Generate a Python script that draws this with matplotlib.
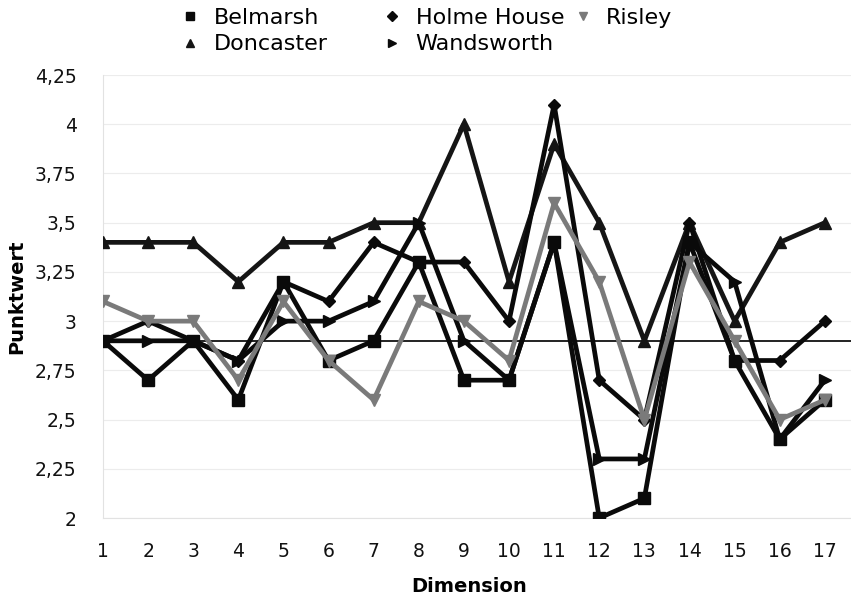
import matplotlib
matplotlib.use("Agg")
import matplotlib.pyplot as plt
from matplotlib.ticker import FuncFormatter

dimensions = list(range(1, 18))
belmarsh    = [2.9, 2.7, 2.9, 2.6, 3.2, 2.8, 2.9, 3.3, 2.7, 2.7, 3.4, 2.0, 2.1, 3.4, 2.8, 2.4, 2.6]
doncaster   = [3.4, 3.4, 3.4, 3.2, 3.4, 3.4, 3.5, 3.5, 4.0, 3.2, 3.9, 3.5, 2.9, 3.5, 3.0, 3.4, 3.5]
holme_house = [2.9, 3.0, 2.9, 2.8, 3.2, 3.1, 3.4, 3.3, 3.3, 3.0, 4.1, 2.7, 2.5, 3.5, 2.8, 2.8, 3.0]
wandsworth  = [2.9, 2.9, 2.9, 2.8, 3.0, 3.0, 3.1, 3.5, 2.9, 2.7, 3.4, 2.3, 2.3, 3.4, 3.2, 2.4, 2.7]
risley      = [3.1, 3.0, 3.0, 2.7, 3.1, 2.8, 2.6, 3.1, 3.0, 2.8, 3.6, 3.2, 2.5, 3.3, 2.9, 2.5, 2.6]
reference_value = 2.9
y_ticks = [2.0, 2.25, 2.5, 2.75, 3.0, 3.25, 3.5, 3.75, 4.0, 4.25]

fig = plt.figure(figsize=(8.51, 6.02), dpi=100)
ax = fig.add_axes([0.121, 0.1395, 0.879, 0.7359])

lw = 3.4
l1, = ax.plot(dimensions, belmarsh, color="#0a0a0a", lw=lw, marker="s", ms=8, label="Belmarsh", zorder=3)
l2, = ax.plot(dimensions, doncaster, color="#151515", lw=lw, marker="^", ms=8, label="Doncaster", zorder=3)
l3, = ax.plot(dimensions, holme_house, color="#0a0a0a", lw=lw, marker="D", ms=6, label="Holme House", zorder=3)
l4, = ax.plot(dimensions, wandsworth, color="#0a0a0a", lw=lw, marker=">", ms=8, label="Wandsworth", zorder=3)
l5, = ax.plot(dimensions, risley, color="#7a7a7a", lw=lw, marker="v", ms=8, label="Risley", zorder=4)

ax.axhline(reference_value, color="#111111", lw=1.3, zorder=2)

ax.set_xlim(1, 17.58)
ax.set_ylim(2, 4.25)
ax.set_xticks(dimensions)
ax.set_yticks(y_ticks)
ax.yaxis.set_major_formatter(FuncFormatter(lambda v, p: ("%g" % v).replace(".", ",")))
ax.grid(axis="y", color="#ececec", lw=0.8)
ax.set_axisbelow(True)
for s in ["top", "right"]:
    ax.spines[s].set_visible(False)
ax.spines["left"].set_color("#e2e2e2")
ax.spines["bottom"].set_color("#e2e2e2")
ax.tick_params(length=0, labelsize=13.5, colors="#111111")
ax.tick_params(axis="y", pad=19)
ax.tick_params(axis="x", pad=17)

ax.set_xlabel("Dimension", fontsize=14, fontweight="bold")
ax.set_ylabel("Punktwert", fontsize=14, fontweight="bold")
ax.xaxis.set_label_coords(0.49, -0.133)
ax.yaxis.set_label_coords(-0.102, 0.5)

leg_kw = dict(frameon=False, fontsize=16, handlelength=0.6, handletextpad=0.75,
              labelspacing=0.3, borderpad=0, borderaxespad=0, markerscale=0.8)
legA = fig.legend([l1, l2, l3, l4], ["Belmarsh", "Doncaster", "Holme House", "Wandsworth"],
                  loc="upper left", bbox_to_anchor=(0.216, 0.987), ncol=2, columnspacing=2.6, **leg_kw)
legB = fig.legend([l5], ["Risley"], loc="upper left", bbox_to_anchor=(0.677, 0.987), **leg_kw)
for lg in (legA, legB):
    for h in lg.legend_handles:
        h.set_linestyle("none")

fig.savefig("out.png", dpi=100)
